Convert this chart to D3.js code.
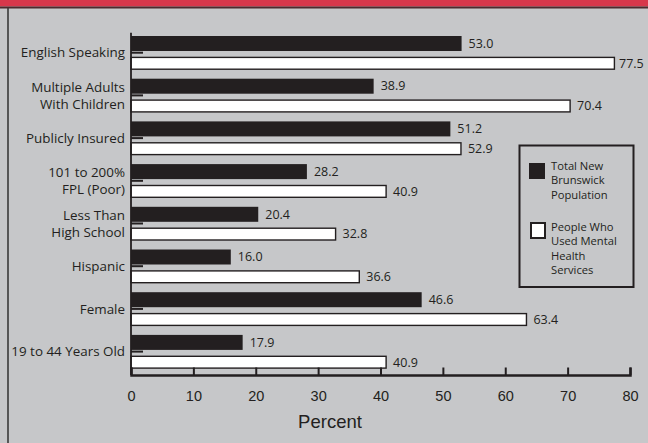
<!DOCTYPE html>
<html>
<head>
<meta charset="utf-8">
<script src="https://cdn.jsdelivr.net/npm/d3@7"></script>
<style>
  html, body { margin: 0; padding: 0; background: #c6c7c9; }
  svg { display: block; }
</style>
</head>
<body>
<svg id="chart" width="648" height="443"></svg>
<script>
// Population characteristics: New Brunswick overall vs. mental health service users
const categories = [
  "English Speaking",
  "Multiple Adults|With Children",
  "Publicly Insured",
  "101 to 200%|FPL (Poor)",
  "Less Than|High School",
  "Hispanic",
  "Female",
  "19 to 44 Years Old"
];
const totalPopulation = [53.0, 38.9, 51.2, 28.2, 20.4, 16.0, 46.6, 17.9];
const mentalHealthUsers = [77.5, 70.4, 52.9, 40.9, 32.8, 36.6, 63.4, 40.9];
const xTicks = [0, 10, 20, 30, 40, 50, 60, 70, 80];
const seriesNames = [
  ["Total New", "Brunswick", "Population"],
  ["People Who", "Used Mental", "Health", "Services"]
];
const axisTitle = "Percent";

const W = 648, H = 443;
const ink = "#231f20";
const labelFont = "'Open Sans', 'Noto Sans', sans-serif";
const axisFont = "'Liberation Sans', Arial, sans-serif";

const svg = d3.select("#chart");

// background panel, header strip and left frame edge
svg.append("rect").attr("width", W).attr("height", H).attr("fill", "#c6c7c9");
svg.append("rect").attr("x", 0).attr("y", 0).attr("width", W).attr("height", 6.5).attr("fill", "#d8374b");
svg.append("line").attr("x1", 0).attr("x2", W).attr("y1", 7.5).attr("y2", 7.5)
  .attr("stroke", "#4e2a2e").attr("stroke-width", 2);
svg.append("line").attr("x1", 8).attr("x2", 8).attr("y1", 8).attr("y2", H)
  .attr("stroke", "#3a3a3a").attr("stroke-width", 1.6);

const x = d3.scaleLinear().domain([0, 80]).range([131, 630]);
const y = d3.scaleBand().domain(categories).range([31.35, 372.95]).paddingInner(0).paddingOuter(0);
const center = d => y(d) + y.bandwidth() / 2;

const plot = svg.append("g");

// dark bars: total population
plot.selectAll("rect.total").data(categories).join("rect")
  .attr("class", "total")
  .attr("x", x(0))
  .attr("y", d => center(d) - 16.7)
  .attr("width", (d, i) => x(totalPopulation[i]) - x(0))
  .attr("height", 15)
  .attr("fill", ink);

// white bars: mental health service users
plot.selectAll("rect.users").data(categories).join("rect")
  .attr("class", "users")
  .attr("x", x(0))
  .attr("y", d => center(d) + 4.7)
  .attr("width", (d, i) => x(mentalHealthUsers[i]) - x(0))
  .attr("height", 11.8)
  .attr("fill", "#ffffff")
  .attr("stroke", ink)
  .attr("stroke-width", 1.4);

// value labels
const valueLabel = (cls, values, dyOff) => plot.selectAll("text." + cls).data(categories).join("text")
  .attr("class", cls)
  .attr("x", (d, i) => Math.min(x(values[i]) + 7, 619))
  .attr("y", d => center(d) + dyOff)
  .attr("dy", "0.35em")
  .attr("font-family", labelFont)
  .attr("font-size", 12.5)
  .attr("fill", ink)
  .text((d, i) => values[i].toFixed(1));
valueLabel("vt", totalPopulation, -9.3);
valueLabel("vu", mentalHealthUsers, 10.6);

// y axis: inward stubs at category centres, multi-line labels
const yAxis = d3.axisLeft(y).tickSize(-12).tickSizeOuter(0).tickPadding(6);
const gy = svg.append("g").attr("transform", `translate(${x(0)},0)`).call(yAxis);
gy.select(".domain").remove();
gy.selectAll(".tick line").attr("stroke", ink).attr("stroke-width", 2);
gy.selectAll(".tick text").each(function(d) {
  const lines = d.split("|");
  const t = d3.select(this).text(null)
    .attr("x", -6).attr("dy", null)
    .attr("font-family", labelFont).attr("font-size", 13.4).attr("fill", ink);
  lines.forEach((ln, k) => {
    t.append("tspan").attr("x", -6)
      .attr("y", (k - (lines.length - 1) / 2) * 17)
      .attr("dy", "0.35em")
      .text(ln);
  });
});
svg.append("line").attr("x1", x(0)).attr("x2", x(0)).attr("y1", 32.7).attr("y2", 375)
  .attr("stroke", ink).attr("stroke-width", 1.8);

// x axis with upward ticks
const xAxis = d3.axisBottom(x).tickValues(xTicks).tickSizeInner(-7.5).tickSizeOuter(-7.5).tickFormat(d3.format("d"));
const gx = svg.append("g").attr("transform", "translate(0,375)").call(xAxis);
gx.select(".domain").attr("stroke", ink).attr("stroke-width", 2.5);
gx.selectAll(".tick line").attr("stroke", ink).attr("stroke-width", 2);
gx.selectAll(".tick text")
  .attr("y", 21).attr("dy", "0.35em")
  .attr("font-family", axisFont).attr("font-size", 14.5).attr("fill", ink);

svg.append("text")
  .attr("x", 330).attr("y", 422).attr("dy", "0.35em")
  .attr("text-anchor", "middle")
  .attr("font-family", axisFont).attr("font-size", 18.5).attr("fill", ink)
  .text(axisTitle);

// legend
const lg = svg.append("g");
lg.append("rect").attr("x", 519.5).attr("y", 145.5).attr("width", 114).attr("height", 141.5)
  .attr("fill", "none").attr("stroke", ink).attr("stroke-width", 2);
lg.append("rect").attr("x", 529).attr("y", 163).attr("width", 16).attr("height", 16).attr("fill", ink);
lg.append("rect").attr("x", 531).attr("y", 223).attr("width", 14).attr("height", 15)
  .attr("fill", "#ffffff").attr("stroke", ink).attr("stroke-width", 2);
const legendTops = [166, 226.7];
seriesNames.forEach((lines, s) => {
  lines.forEach((ln, k) => {
    lg.append("text")
      .attr("x", 551).attr("y", legendTops[s] + k * 14.5).attr("dy", "0.35em")
      .attr("font-family", labelFont).attr("font-size", 11.2).attr("fill", ink)
      .text(ln);
  });
});
</script>
</body>
</html>
